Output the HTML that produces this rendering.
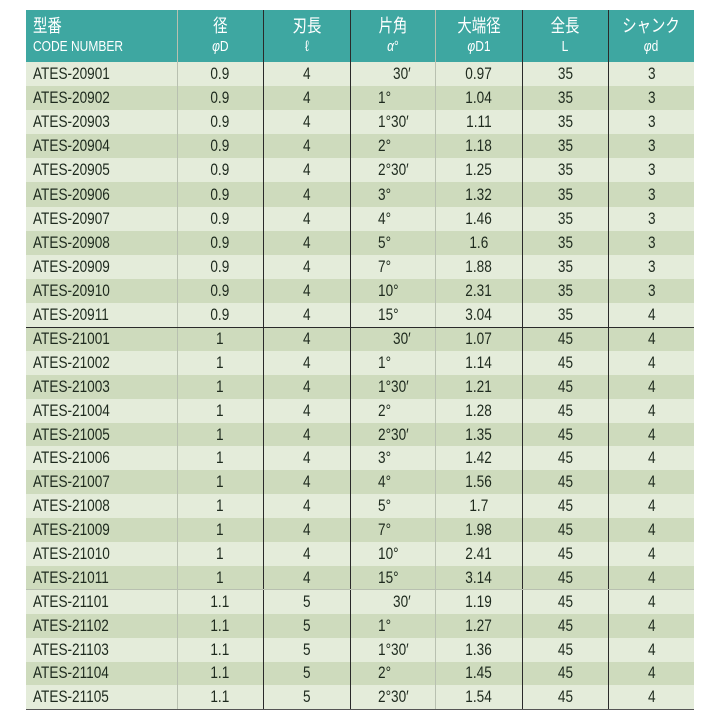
<!DOCTYPE html>
<html><head><meta charset="utf-8"><style>
body{margin:0;width:720px;height:720px;background:#fff;overflow:hidden}
table{position:absolute;left:26px;top:10px;border-collapse:collapse;table-layout:fixed;width:668px;
font-family:"Liberation Sans","Noto Sans CJK JP",sans-serif;font-size:17px;color:#1e2a1e}
td,th{padding:0;text-align:center;white-space:nowrap;overflow:visible;line-height:18px}
th{background:#3ea7a1;color:#fff;font-weight:normal;line-height:19px;font-size:18px;vertical-align:middle}
tr.h{height:52px}
th .s{font-size:15px}
.w{display:inline-block;transform:scaleX(0.8)}
th.l,td.l{text-align:left;padding-left:7px}
th.l .w,td.l .w,td.a .w{transform-origin:left center}
td.a{text-align:left;padding-left:27px}
td.a.h{padding-left:42px}
tr.r1{height:24.1px}
tr.r2{height:23.9px}
tr.e td{background:#e4ecda}
tr.o td{background:#cedbbd}
.c1{border-right:1px solid #b8c0b0}
.c2,.c3,.c5,.c6{border-right:1px solid #2a2a2a}
.c4{border-right:1px solid #b8c0b0}
tr.sep td{border-bottom:1px solid #2a2a2a}
tr.sep2 td{border-bottom:1px solid #b8c0b0}
tr.last td{border-bottom:1px solid #555}
</style></head><body>
<table>
<colgroup><col style="width:151px"><col style="width:86px"><col style="width:87px"><col style="width:85px"><col style="width:87px"><col style="width:86px"><col style="width:86px"></colgroup>
<tr class="h"><th class="l c1">型番<br><span class="s">CODE NUMBER</span></th><th class="c2">径<br><span class="s"><i>φ</i>D</span></th><th class="c3">刃長<br><span class="s">ℓ</span></th><th class="c4">片角<br><span class="s"><i>α</i>°</span></th><th class="c5">大端径<br><span class="s"><i>φ</i>D1</span></th><th class="c6">全長<br><span class="s">L</span></th><th>シャンク<br><span class="s"><i>φ</i>d</span></th></tr>
<tr class="r1 e"><td class="l c1">ATES-20901</td><td class="c2">0.9</td><td class="c3">4</td><td class="a h c4">30′</td><td class="c5">0.97</td><td class="c6">35</td><td>3</td></tr>
<tr class="r1 o"><td class="l c1">ATES-20902</td><td class="c2">0.9</td><td class="c3">4</td><td class="a c4">1°</td><td class="c5">1.04</td><td class="c6">35</td><td>3</td></tr>
<tr class="r1 e"><td class="l c1">ATES-20903</td><td class="c2">0.9</td><td class="c3">4</td><td class="a c4">1°30′</td><td class="c5">1.11</td><td class="c6">35</td><td>3</td></tr>
<tr class="r1 o"><td class="l c1">ATES-20904</td><td class="c2">0.9</td><td class="c3">4</td><td class="a c4">2°</td><td class="c5">1.18</td><td class="c6">35</td><td>3</td></tr>
<tr class="r1 e"><td class="l c1">ATES-20905</td><td class="c2">0.9</td><td class="c3">4</td><td class="a c4">2°30′</td><td class="c5">1.25</td><td class="c6">35</td><td>3</td></tr>
<tr class="r1 o"><td class="l c1">ATES-20906</td><td class="c2">0.9</td><td class="c3">4</td><td class="a c4">3°</td><td class="c5">1.32</td><td class="c6">35</td><td>3</td></tr>
<tr class="r1 e"><td class="l c1">ATES-20907</td><td class="c2">0.9</td><td class="c3">4</td><td class="a c4">4°</td><td class="c5">1.46</td><td class="c6">35</td><td>3</td></tr>
<tr class="r1 o"><td class="l c1">ATES-20908</td><td class="c2">0.9</td><td class="c3">4</td><td class="a c4">5°</td><td class="c5">1.6</td><td class="c6">35</td><td>3</td></tr>
<tr class="r1 e"><td class="l c1">ATES-20909</td><td class="c2">0.9</td><td class="c3">4</td><td class="a c4">7°</td><td class="c5">1.88</td><td class="c6">35</td><td>3</td></tr>
<tr class="r1 o"><td class="l c1">ATES-20910</td><td class="c2">0.9</td><td class="c3">4</td><td class="a c4">10°</td><td class="c5">2.31</td><td class="c6">35</td><td>3</td></tr>
<tr class="r1 e sep"><td class="l c1">ATES-20911</td><td class="c2">0.9</td><td class="c3">4</td><td class="a c4">15°</td><td class="c5">3.04</td><td class="c6">35</td><td>4</td></tr>
<tr class="r2 o"><td class="l c1">ATES-21001</td><td class="c2">1</td><td class="c3">4</td><td class="a h c4">30′</td><td class="c5">1.07</td><td class="c6">45</td><td>4</td></tr>
<tr class="r2 e"><td class="l c1">ATES-21002</td><td class="c2">1</td><td class="c3">4</td><td class="a c4">1°</td><td class="c5">1.14</td><td class="c6">45</td><td>4</td></tr>
<tr class="r2 o"><td class="l c1">ATES-21003</td><td class="c2">1</td><td class="c3">4</td><td class="a c4">1°30′</td><td class="c5">1.21</td><td class="c6">45</td><td>4</td></tr>
<tr class="r2 e"><td class="l c1">ATES-21004</td><td class="c2">1</td><td class="c3">4</td><td class="a c4">2°</td><td class="c5">1.28</td><td class="c6">45</td><td>4</td></tr>
<tr class="r2 o"><td class="l c1">ATES-21005</td><td class="c2">1</td><td class="c3">4</td><td class="a c4">2°30′</td><td class="c5">1.35</td><td class="c6">45</td><td>4</td></tr>
<tr class="r2 e"><td class="l c1">ATES-21006</td><td class="c2">1</td><td class="c3">4</td><td class="a c4">3°</td><td class="c5">1.42</td><td class="c6">45</td><td>4</td></tr>
<tr class="r2 o"><td class="l c1">ATES-21007</td><td class="c2">1</td><td class="c3">4</td><td class="a c4">4°</td><td class="c5">1.56</td><td class="c6">45</td><td>4</td></tr>
<tr class="r2 e"><td class="l c1">ATES-21008</td><td class="c2">1</td><td class="c3">4</td><td class="a c4">5°</td><td class="c5">1.7</td><td class="c6">45</td><td>4</td></tr>
<tr class="r2 o"><td class="l c1">ATES-21009</td><td class="c2">1</td><td class="c3">4</td><td class="a c4">7°</td><td class="c5">1.98</td><td class="c6">45</td><td>4</td></tr>
<tr class="r2 e"><td class="l c1">ATES-21010</td><td class="c2">1</td><td class="c3">4</td><td class="a c4">10°</td><td class="c5">2.41</td><td class="c6">45</td><td>4</td></tr>
<tr class="r2 o sep2"><td class="l c1">ATES-21011</td><td class="c2">1</td><td class="c3">4</td><td class="a c4">15°</td><td class="c5">3.14</td><td class="c6">45</td><td>4</td></tr>
<tr class="r2 e"><td class="l c1">ATES-21101</td><td class="c2">1.1</td><td class="c3">5</td><td class="a h c4">30′</td><td class="c5">1.19</td><td class="c6">45</td><td>4</td></tr>
<tr class="r2 o"><td class="l c1">ATES-21102</td><td class="c2">1.1</td><td class="c3">5</td><td class="a c4">1°</td><td class="c5">1.27</td><td class="c6">45</td><td>4</td></tr>
<tr class="r2 e"><td class="l c1">ATES-21103</td><td class="c2">1.1</td><td class="c3">5</td><td class="a c4">1°30′</td><td class="c5">1.36</td><td class="c6">45</td><td>4</td></tr>
<tr class="r2 o"><td class="l c1">ATES-21104</td><td class="c2">1.1</td><td class="c3">5</td><td class="a c4">2°</td><td class="c5">1.45</td><td class="c6">45</td><td>4</td></tr>
<tr class="r2 e last"><td class="l c1">ATES-21105</td><td class="c2">1.1</td><td class="c3">5</td><td class="a c4">2°30′</td><td class="c5">1.54</td><td class="c6">45</td><td>4</td></tr>
</table>
<script>
document.querySelectorAll('td,th').forEach(function(c){c.innerHTML='<span class="w">'+c.innerHTML+'</span>';});
</script>
</body></html>
